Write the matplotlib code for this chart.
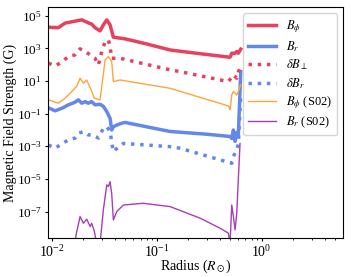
import matplotlib
matplotlib.use("Agg")
import matplotlib.pyplot as plt
from matplotlib.ticker import FixedLocator, NullLocator

plt.rcParams['font.family'] = ['Liberation Serif', 'DejaVu Serif']
plt.rcParams['mathtext.fontset'] = 'stix'
plt.rcParams['font.size'] = 10
plt.rcParams['xtick.major.size'] = 2.5
plt.rcParams['ytick.major.size'] = 2.5
plt.rcParams['xtick.minor.size'] = 1.5
plt.rcParams['xtick.major.pad'] = 2
plt.rcParams['ytick.major.pad'] = 2
plt.rcParams['axes.labelpad'] = 2

# B_phi (solid red)
r_bphi = [0.00929, 0.01156, 0.01339, 0.0179, 0.0193, 0.0216, 0.0240, 0.0258, 0.0288,
          0.0310, 0.0334, 0.0359, 0.0386, 0.0499, 0.080, 0.134, 0.25, 0.499,
          0.518, 0.557, 0.578, 0.598, 0.631]
b_bphi = [2.0e4, 1.9e4, 3.6e4, 5.2e4, 5.7e4, 4.1e4, 3.1e4, 1.9e4, 1.2e4,
          2.8e4, 5.7e4, 2.8e4, 4.9e3, 3.9e3, 1.9e3, 8.1e2, 4.9e2, 2.9e2,
          5.1e2, 5.1e2, 6.5e2, 5.1e2, 9.1e2]

# B_r (solid blue)
r_br = [0.00929, 0.01074, 0.0126, 0.0144, 0.0167, 0.0179, 0.0193, 0.0208, 0.0222,
        0.0240, 0.0258, 0.0288, 0.0310, 0.0334, 0.0359, 0.0372, 0.0386, 0.0416,
        0.0463, 0.0499, 0.134, 0.30, 0.499, 0.518, 0.537, 0.557, 0.578, 0.598, 0.631]
b_br = [0.23, 0.15, 0.22, 0.35, 0.51, 0.71, 0.44, 0.55, 0.44,
        0.55, 0.35, 0.38, 0.28, 0.135, 0.052, 0.010, 0.016, 0.020,
        0.026, 0.029, 8.1e-3, 5.5e-3, 4.0e-3, 3.0e-3, 1.0e-2, 2.0e-3, 7.0e-3, 4.5e-3, 38.0]

# delta B_perp (dotted red)
r_dbperp = [0.00929, 0.01074, 0.0120, 0.0144, 0.01667, 0.0186, 0.0208, 0.0232, 0.0258,
            0.0278, 0.0299, 0.0322, 0.0346, 0.0359, 0.0372, 0.0447, 0.134, 0.167,
            0.481, 0.537, 0.578, 0.600, 0.621]
b_dbperp = [126, 85, 126, 316, 407, 955, 646, 407, 251,
            98, 646, 2630, 3390, 1320, 251, 251, 49, 38,
            9.3, 24, 15, 38, 62]

# delta B_r (dotted blue)
r_dbr = [0.00929, 0.01074, 0.0120, 0.0144, 0.01667, 0.0179, 0.0200, 0.0222, 0.0246,
         0.0278, 0.0288, 0.0310, 0.0334, 0.0359, 0.0372, 0.0386, 0.0401, 0.0481,
         0.134, 0.167, 0.518, 0.537, 0.578, 0.598, 0.631]
b_dbr = [1.2e-3, 7.6e-4, 1.2e-3, 2.5e-3, 3.2e-3, 6.3e-3, 7.9e-3, 5.0e-3, 5.0e-3,
         3.2e-3, 5.0e-3, 1.3e-2, 1.6e-2, 7.9e-3, 1.9e-3, 4.7e-4, 6.0e-4, 1.5e-3,
         9.5e-4, 7.6e-4, 9.1e-5, 2.4e-4, 6.3e-4, 1.3e-3, 1.4]

# B_phi (S02) (thin orange)
r_bphi_s02 = [0.00929, 0.01156, 0.01339, 0.0155, 0.0172, 0.0186, 0.0200, 0.0215, 0.0237,
              0.0254, 0.0288, 0.0299, 0.0322, 0.0346, 0.0372, 0.0386, 0.0447, 0.134,
              0.481, 0.499, 0.518, 0.537, 0.578, 0.598, 0.631]
b_bphi_s02 = [0.71, 0.44, 0.89, 2.3, 4.6, 15.0, 7.4, 11.7, 2.9,
              0.89, 0.71, 4.6, 200, 316, 158, 9.3, 11.7, 3.6,
              0.30, 0.17, 1.4, 2.3, 1.4, 2.3, 5.9]

# B_r (S02) (thin purple)
r_br_s02 = [0.01648, 0.0172, 0.0186, 0.0200, 0.0215, 0.0232, 0.0240, 0.0254, 0.0268,
            0.0288, 0.0310, 0.0334, 0.0346, 0.0359, 0.0372, 0.0386, 0.0416, 0.0481,
            0.0742, 0.134, 0.259, 0.400, 0.481, 0.499, 0.518, 0.537, 0.557, 0.578, 0.621]
b_br_s02 = [1e-9, 5e-9, 4.9e-8, 1.9e-8, 3.4e-8, 1.2e-8, 1.9e-8, 6.3e-9, 1e-9,
            1e-9, 1.3e-7, 4.3e-6, 3.4e-6, 6.8e-6, 1.3e-6, 3.0e-8, 1.0e-7, 2.5e-7,
            3.2e-7, 2.0e-7, 3.9e-8, 9.5e-9, 4.7e-9, 1e-9, 2.5e-7, 4.9e-8, 7.4e-9, 7.9e-8, 1.5e-3]

c_red = '#e8405f'
c_blue = '#6488ea'
c_orange = '#ffa43a'
c_purple = '#a63fb5'


def main():
    fig = plt.figure(figsize=(3.51, 2.77), dpi=100)
    ax = fig.add_axes([0.137, 0.140, 0.841, 0.834])

    ax.plot(r_bphi, b_bphi, color=c_red, lw=2.5, label=r'$B_\phi$')
    ax.plot(r_br, b_br, color=c_blue, lw=2.5, label=r'$B_r$')
    ax.plot(r_dbperp, b_dbperp, color=c_red, lw=2.5, ls=':', label=r'$\delta B_\perp$')
    ax.plot(r_dbr, b_dbr, color=c_blue, lw=2.5, ls=':', label=r'$\delta B_r$')
    ax.plot(r_bphi_s02, b_bphi_s02, color=c_orange, lw=1.0, label=r'$B_\phi$ (S02)')
    ax.plot(r_br_s02, b_br_s02, color=c_purple, lw=1.0, label=r'$B_r$ (S02)')

    ax.set_xscale('log')
    ax.set_yscale('log')
    ax.set_xlim(0.00922, 5.98)
    ax.set_ylim(2.3e-9, 3.4e5)
    ax.yaxis.set_major_locator(FixedLocator([1e-7, 1e-5, 1e-3, 1e-1, 1e1, 1e3, 1e5]))
    ax.yaxis.set_minor_locator(NullLocator())
    ax.tick_params(axis='y', labelsize=9.5)

    ax.set_xlabel(r'Radius ($R_\odot$)', labelpad=-2)
    ax.set_ylabel('Magnetic Field Strength (G)')
    ax.yaxis.set_label_coords(-0.105, 0.5)
    ax.legend(loc='upper right', fontsize=9, labelspacing=0.3, handlelength=2.2)

    fig.savefig('out.png', dpi=100)


if __name__ == "__main__":
    main()
